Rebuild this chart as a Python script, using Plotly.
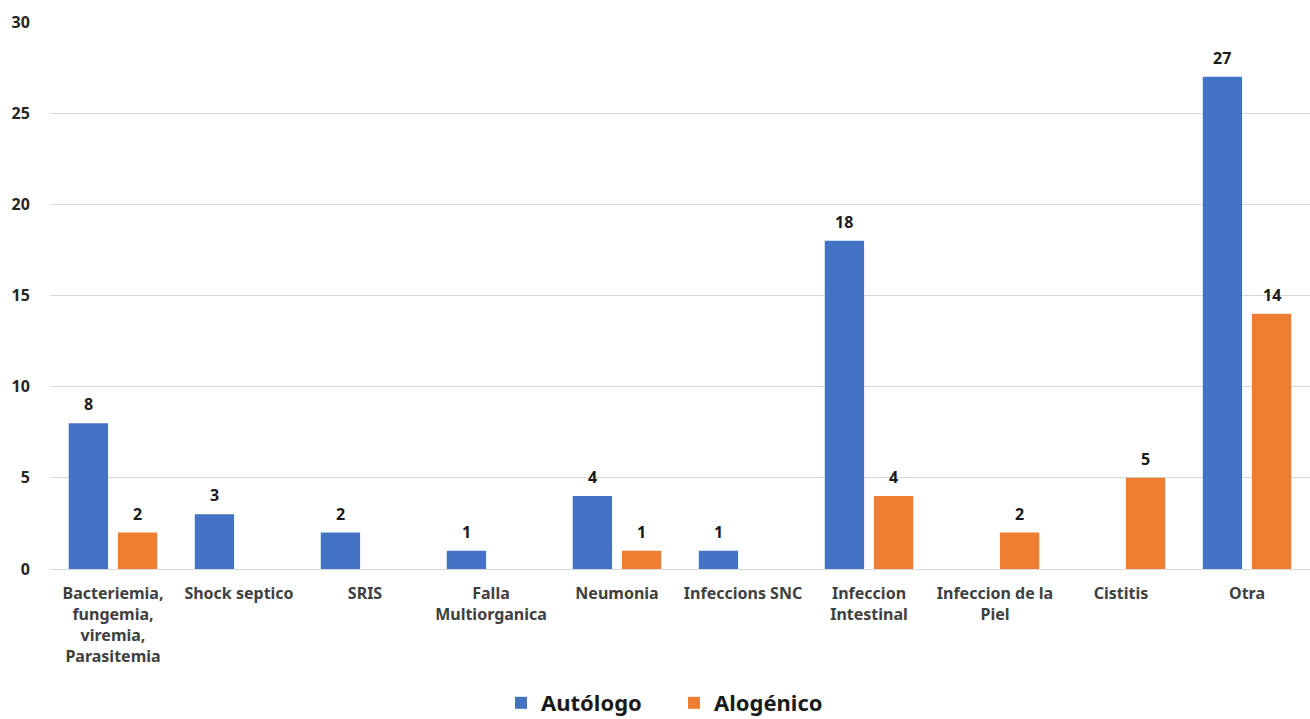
import plotly.graph_objects as go

categories = ["Bacteriemia,<br>fungemia,<br>viremia,<br>Parasitemia", "Shock septico", "SRIS",
              "Falla<br>Multiorganica", "Neumonia", "Infeccions SNC", "Infeccion<br>Intestinal",
              "Infeccion de la<br>Piel", "Cistitis", "Otra"]
autologo = [8, 3, 2, 1, 4, 1, 18, 0, 0, 27]
alogenico = [2, 0, 0, 0, 1, 0, 4, 2, 5, 14]
yticks = [0, 5, 10, 15, 20, 25, 30]

BLUE = "#4472C4"
ORANGE = "#ED7D31"
FONT = "Noto Sans"

W, H = 1310, 719
ML, MR, MT, MB = 50, 0, 22, 150
BARGAP, GROUPGAP = 0.22, 0.2

fig = go.Figure()
fig.add_trace(go.Bar(name="Autólogo", x=categories, y=autologo, marker_color=BLUE,
                     marker_line_width=0))
fig.add_trace(go.Bar(name="Alogénico", x=categories, y=alogenico, marker_color=ORANGE,
                     marker_line_width=0))

# value labels via annotations placed on data coordinates
cat_px = (W - ML - MR) / len(categories)
slot = (1 - BARGAP) * cat_px / 2
for series, sign in ((autologo, -1), (alogenico, 1)):
    for c, v in zip(categories, series):
        if v:
            fig.add_annotation(x=c, y=v, xref="x", yref="y", text=f"<b>{v}</b>",
                               showarrow=False, xshift=sign * slot / 2, yshift=19,
                               yanchor="middle",
                               font=dict(family=FONT, size=16, color="#1a1a1a"))

fig.update_layout(
    width=W, height=H,
    margin=dict(l=ML, r=MR, t=MT, b=MB, autoexpand=False),
    paper_bgcolor="white", plot_bgcolor="white",
    barmode="group", bargap=BARGAP, bargroupgap=GROUPGAP,
    font=dict(family=FONT, color="#404040"),
    showlegend=True,
    legend=dict(orientation="h", x=501 / W, xanchor="left", xref="container",
                y=(H - 703) / H, yanchor="middle", yref="container",
                font=dict(family=FONT, size=22, color="#1a1a1a", weight="bold"),
                traceorder="normal", itemwidth=30, entrywidth=128),
)
fig.update_xaxes(showgrid=False, showline=False, ticks="outside", ticklen=10, tickcolor="white",
                 tickfont=dict(family=FONT, size=16, color="#404040", weight="bold"),
                 tickangle=0, automargin=False)
fig.update_yaxes(range=[0, 30], tickvals=yticks, showgrid=True, gridcolor="#d9d9d9", gridwidth=1,
                 zeroline=True, zerolinecolor="#d9d9d9", zerolinewidth=1, showline=False,
                 ticks="outside", ticklen=16, tickcolor="white", automargin=False,
                 tickfont=dict(family=FONT, size=16, color="#262626", weight="bold"))

fig.write_html("out.html")
